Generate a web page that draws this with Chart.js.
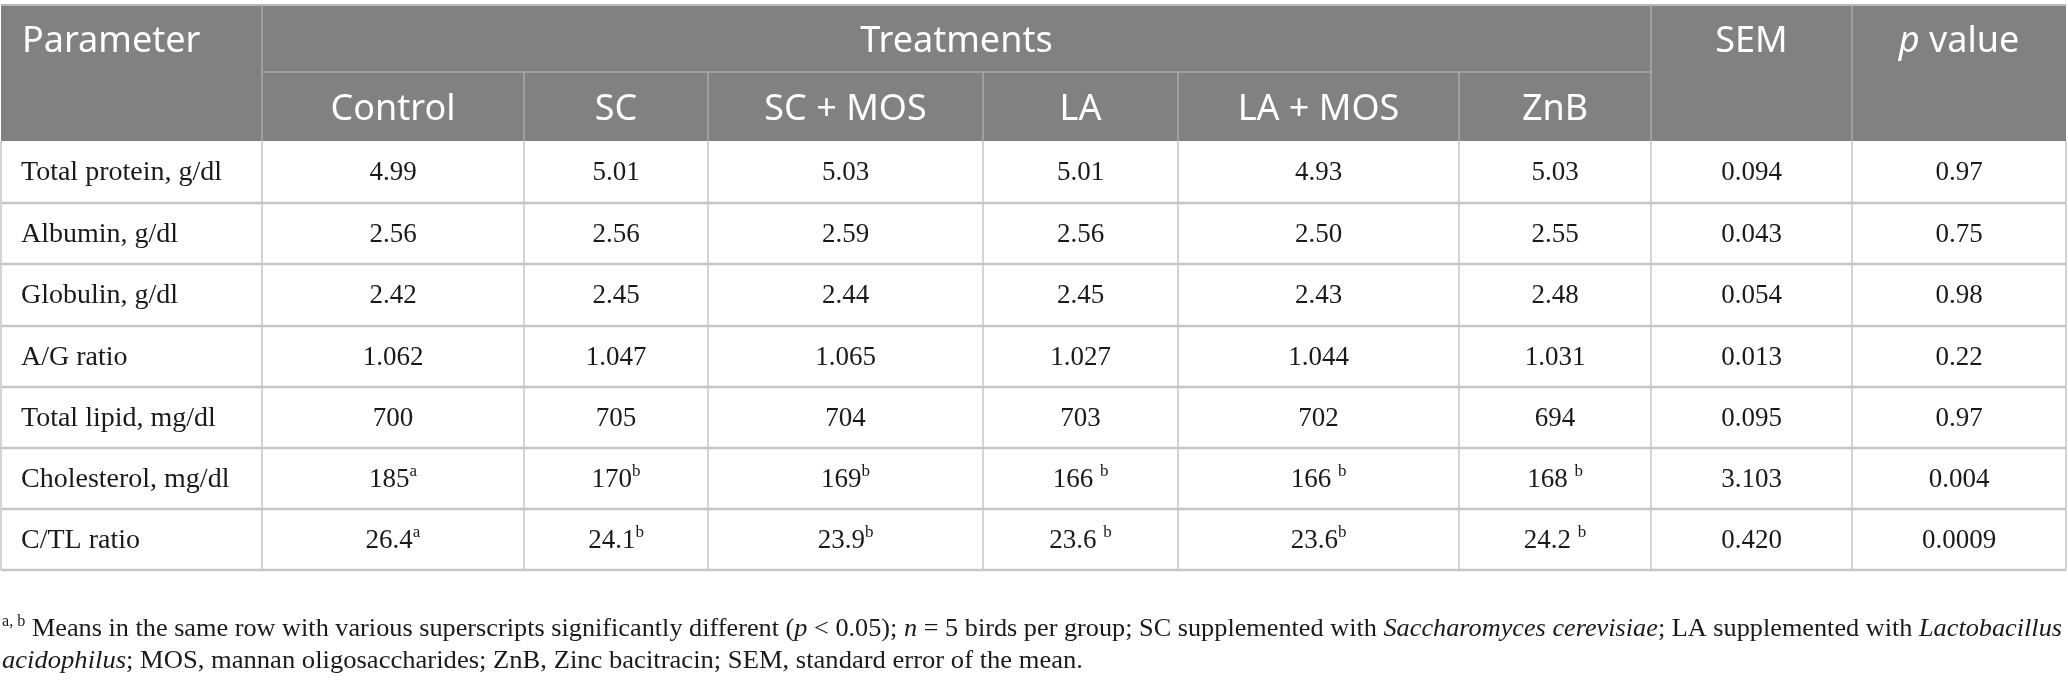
<!DOCTYPE html>
<html>
<head>
<meta charset="utf-8">
<script src="https://cdn.jsdelivr.net/npm/chart.js@4.4.1/dist/chart.umd.min.js"></script>
<style>
  html, body { margin: 0; padding: 0; background: #ffffff; }
  #wrap { width: 2068px; height: 685px; }
</style>
</head>
<body>
<div id="wrap"><canvas id="tableChart"></canvas></div>
<script>
// Table content, one array per column ("^" marks a superscript)
const parameters = ['Total protein, g/dl', 'Albumin, g/dl', 'Globulin, g/dl', 'A/G ratio',
                    'Total lipid, mg/dl', 'Cholesterol, mg/dl', 'C/TL ratio'];
const treatments = ['Control', 'SC', 'SC + MOS', 'LA', 'LA + MOS', 'ZnB'];
const control = ['4.99', '2.56', '2.42', '1.062', '700', '185^a', '26.4^a'];
const sc      = ['5.01', '2.56', '2.45', '1.047', '705', '170^b', '24.1^b'];
const scMos   = ['5.03', '2.59', '2.44', '1.065', '704', '169^b', '23.9^b'];
const la      = ['5.01', '2.56', '2.45', '1.027', '703', '166 ^b', '23.6 ^b'];
const laMos   = ['4.93', '2.50', '2.43', '1.044', '702', '166 ^b', '23.6^b'];
const znb     = ['5.03', '2.55', '2.48', '1.031', '694', '168 ^b', '24.2 ^b'];
const sem     = ['0.094', '0.043', '0.054', '0.013', '0.095', '3.103', '0.420'];
const pValue  = ['0.97', '0.75', '0.98', '0.22', '0.97', '0.004', '0.0009'];

// footnote runs: [text, style]  style: n normal, i italic, s superscript
const footLine1 = [['a, b', 's'], [' Means in the same row with various superscripts significantly different (', 'n'],
  ['p', 'i'], [' < 0.05); ', 'n'], ['n', 'i'], [' = 5 birds per group; SC supplemented with ', 'n'],
  ['Saccharomyces cerevisiae', 'i'], ['; LA supplemented with ', 'n'], ['Lactobacillus', 'i']];
const footLine2 = [['acidophilus', 'i'], ['; MOS, mannan oligosaccharides; ZnB, Zinc bacitracin; SEM, standard error of the mean.', 'n']];

// layout (in scale units, which equal page pixels)
const colEdges = [1, 262, 524, 708, 983, 1178, 1459, 1651, 1852, 2066];
const rowEdges = [5, 72, 141, 203, 264, 326, 387, 448, 509, 570];

const HEAD_BG = '#808180';
const HEAD_LINE = '#a9aaa9';
const BODY_LINE = '#c6c6c6';
const SANS = '"Noto Sans", "Open Sans", sans-serif';
const SERIF = '"Liberation Serif", "DejaVu Serif", serif';
const HEAD_SIZE = 36;
const LABEL_SIZE = 28;
const NUM_SIZE = 27;
const FOOT_SIZE = 26;

const bodyCols = [control, sc, scMos, la, laMos, znb, sem, pValue];

function drawSup(ctx, str, x, y, size) {
    // centred text with an optional superscript part
    const parts = str.split('^');
    ctx.font = size + 'px ' + SERIF;
    const wMain = ctx.measureText(parts[0]).width;
    let wSup = 0;
    if (parts[1]) {
        ctx.font = Math.round(size * 0.62) + 'px ' + SERIF;
        wSup = ctx.measureText(parts[1]).width;
    }
    const left = x - (wMain + wSup) / 2;
    ctx.textAlign = 'left';
    ctx.textBaseline = 'middle';
    ctx.font = size + 'px ' + SERIF;
    ctx.fillText(parts[0], left, y);
    if (parts[1]) {
        ctx.font = Math.round(size * 0.62) + 'px ' + SERIF;
        ctx.fillText(parts[1], left + wMain, y - size * 0.3);
    }
}

// draws a line of mixed runs from x to targetRight (squeezed / stretched to fit)
function drawRuns(ctx, runs, x, y, size, targetRight) {
    const fontFor = s => s === 'i' ? 'italic ' + size + 'px ' + SERIF
        : s === 's' ? Math.round(size * 0.62) + 'px ' + SERIF
        : size + 'px ' + SERIF;
    let total = 0;
    runs.forEach(r => { ctx.font = fontFor(r[1]); total += ctx.measureText(r[0]).width; });
    const sx = (targetRight - x) / total;
    ctx.save();
    ctx.translate(x, y);
    ctx.scale(sx, 1);
    ctx.textAlign = 'left';
    ctx.textBaseline = 'alphabetic';
    let cx = 0;
    runs.forEach(r => {
        ctx.font = fontFor(r[1]);
        ctx.fillText(r[0], cx, r[1] === 's' ? -size * 0.38 : 0);
        cx += ctx.measureText(r[0]).width;
    });
    ctx.restore();
}

const tablePlugin = {
    id: 'tablePlugin',
    afterDraw(chart) {
        const ctx = chart.ctx;
        const xs = chart.scales.x, ys = chart.scales.y;
        const X = v => xs.getPixelForValue(v);
        const Y = v => ys.getPixelForValue(v);
        const line = (x1, y1, x2, y2, color, w) => {
            ctx.strokeStyle = color; ctx.lineWidth = w;
            ctx.beginPath(); ctx.moveTo(X(x1), Y(y1)); ctx.lineTo(X(x2), Y(y2)); ctx.stroke();
        };
        ctx.save();

        // header block
        ctx.fillStyle = HEAD_BG;
        ctx.fillRect(X(colEdges[0]), Y(rowEdges[0]), X(colEdges[9]) - X(colEdges[0]), Y(rowEdges[2]) - Y(rowEdges[0]));
        line(colEdges[0], rowEdges[0], colEdges[9], rowEdges[0], '#b8b8b8', 2);
        line(colEdges[1], rowEdges[1], colEdges[7], rowEdges[1], HEAD_LINE, 1.5);
        [1, 7, 8].forEach(i => line(colEdges[i], rowEdges[0], colEdges[i], rowEdges[2], HEAD_LINE, 1.5));
        [2, 3, 4, 5, 6].forEach(i => line(colEdges[i], rowEdges[1], colEdges[i], rowEdges[2], HEAD_LINE, 1.5));

        // body grid
        for (let r = 3; r < rowEdges.length; r++) {
            line(colEdges[0], rowEdges[r], colEdges[9], rowEdges[r], BODY_LINE, 2.5);
        }
        colEdges.forEach(c => line(c, rowEdges[2], c, rowEdges[9], BODY_LINE, 1.5));

        // header text
        ctx.fillStyle = '#ffffff';
        ctx.textBaseline = 'middle';
        const hf = HEAD_SIZE + 'px ' + SANS;
        const hfi = 'italic ' + HEAD_SIZE + 'px ' + SANS;
        ctx.font = hf;
        const h1 = (Y(rowEdges[0]) + Y(rowEdges[1])) / 2 + 3;
        const h2 = (Y(rowEdges[1]) + Y(rowEdges[2])) / 2 + 3;
        ctx.textAlign = 'left';
        ctx.fillText('Parameter', X(colEdges[0]) + 21, h1);
        ctx.textAlign = 'center';
        ctx.fillText('Treatments', (X(colEdges[1]) + X(colEdges[7])) / 2, h1);
        ctx.fillText('SEM', (X(colEdges[7]) + X(colEdges[8])) / 2, h1);
        // "p value" with italic p
        const pvCx = (X(colEdges[8]) + X(colEdges[9])) / 2;
        ctx.font = hfi;
        const wp = ctx.measureText('p').width;
        ctx.font = hf;
        const wv = ctx.measureText(' value').width;
        ctx.textAlign = 'left';
        ctx.font = hfi;
        ctx.fillText('p', pvCx - (wp + wv) / 2, h1);
        ctx.font = hf;
        ctx.fillText(' value', pvCx - (wp + wv) / 2 + wp, h1);
        ctx.textAlign = 'center';
        treatments.forEach((t, i) => {
            ctx.fillText(t, (X(colEdges[i + 1]) + X(colEdges[i + 2])) / 2, h2);
        });

        // body text
        ctx.fillStyle = '#1a1a1a';
        parameters.forEach((p, r) => {
            const cy = (Y(rowEdges[r + 2]) + Y(rowEdges[r + 3])) / 2 + 1;
            ctx.font = LABEL_SIZE + 'px ' + SERIF;
            ctx.textAlign = 'left';
            ctx.textBaseline = 'middle';
            ctx.fillText(p, X(colEdges[0]) + 20, cy);
            bodyCols.forEach((col, c) => {
                drawSup(ctx, col[r], (X(colEdges[c + 1]) + X(colEdges[c + 2])) / 2, cy, NUM_SIZE);
            });
        });

        // footnote
        drawRuns(ctx, footLine1, X(colEdges[0]) + 1, Y(636), FOOT_SIZE, X(2062));
        drawRuns(ctx, footLine2, X(colEdges[0]) + 1, Y(668), FOOT_SIZE, X(1083));
        ctx.restore();
    }
};

new Chart(document.getElementById('tableChart'), {
    type: 'scatter',
    data: { datasets: [{ data: [], pointRadius: 0 }] },
    options: {
        responsive: true,
        maintainAspectRatio: false,
        animation: false,
        layout: { padding: 0 },
        plugins: { legend: { display: false }, tooltip: { enabled: false } },
        scales: {
            x: { type: 'linear', min: 0, max: 2068, display: false },
            y: { type: 'linear', min: 0, max: 685, reverse: true, display: false }
        }
    },
    plugins: [tablePlugin]
});
</script>
</body>
</html>
